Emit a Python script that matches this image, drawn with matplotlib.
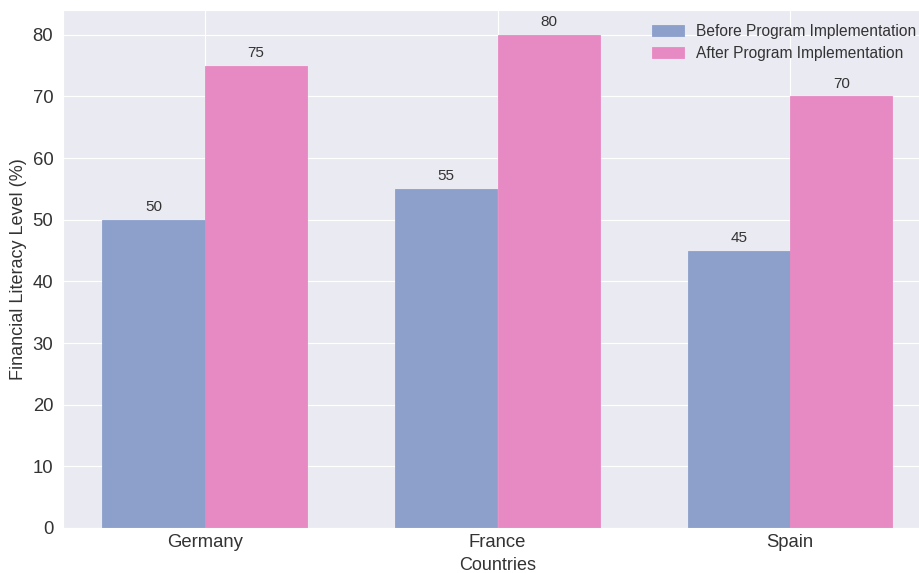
import numpy as np
import matplotlib
matplotlib.use('Agg')
import matplotlib.pyplot as plt
import seaborn as sns

countries = ["Germany", "France", "Spain"]
before = [50, 55, 45]
after = [75, 80, 70]
series_labels = ["Before Program Implementation", "After Program Implementation"]
colors = ["#8da0cb", "#e78ac3"]

sns.set_style("darkgrid")
plt.rcParams['font.family'] = ['Liberation Sans', 'DejaVu Sans']
plt.rcParams['text.color'] = '#333333'
plt.rcParams['axes.labelcolor'] = '#333333'
plt.rcParams['xtick.color'] = '#333333'
plt.rcParams['ytick.color'] = '#333333'

fig = plt.figure(figsize=(9.2, 5.73), dpi=100)
# axes runs a bit past the right edge, as in the cropped reference
ax = fig.add_axes([63 / 920, 45 / 573, 869 / 920, 518 / 573])

x = np.arange(len(countries))
width = 0.35
bars1 = ax.bar(x - width / 2, before, width, color=colors[0], edgecolor=colors[0],
               linewidth=0.6, label=series_labels[0])
bars2 = ax.bar(x + width / 2, after, width, color=colors[1], edgecolor=colors[1],
               linewidth=0.6, label=series_labels[1])

for bars in (bars1, bars2):
    for b in bars:
        h = b.get_height()
        ax.annotate(f"{h}", xy=(b.get_x() + b.get_width() / 2, h), xytext=(0, 4),
                    textcoords="offset points", ha="center", va="bottom", fontsize=11)

ax.set_xticks(x)
ax.set_xticklabels(countries, fontsize=13.3)
ax.tick_params(axis='x', pad=1)
ax.tick_params(axis='y', labelsize=13.3)
ax.set_xlabel("Countries", fontsize=13, labelpad=4)
ax.set_ylabel("Financial Literacy Level (%)", fontsize=13)
ax.set_ylim(0, 84)
ax.set_xlim(-0.485, 2.485)
ax.legend(loc="upper right", fontsize=11.2, frameon=False, labelspacing=0.45,
          bbox_to_anchor=(0.998, 1.0))

plt.savefig("out.png", dpi=100)
plt.close()
